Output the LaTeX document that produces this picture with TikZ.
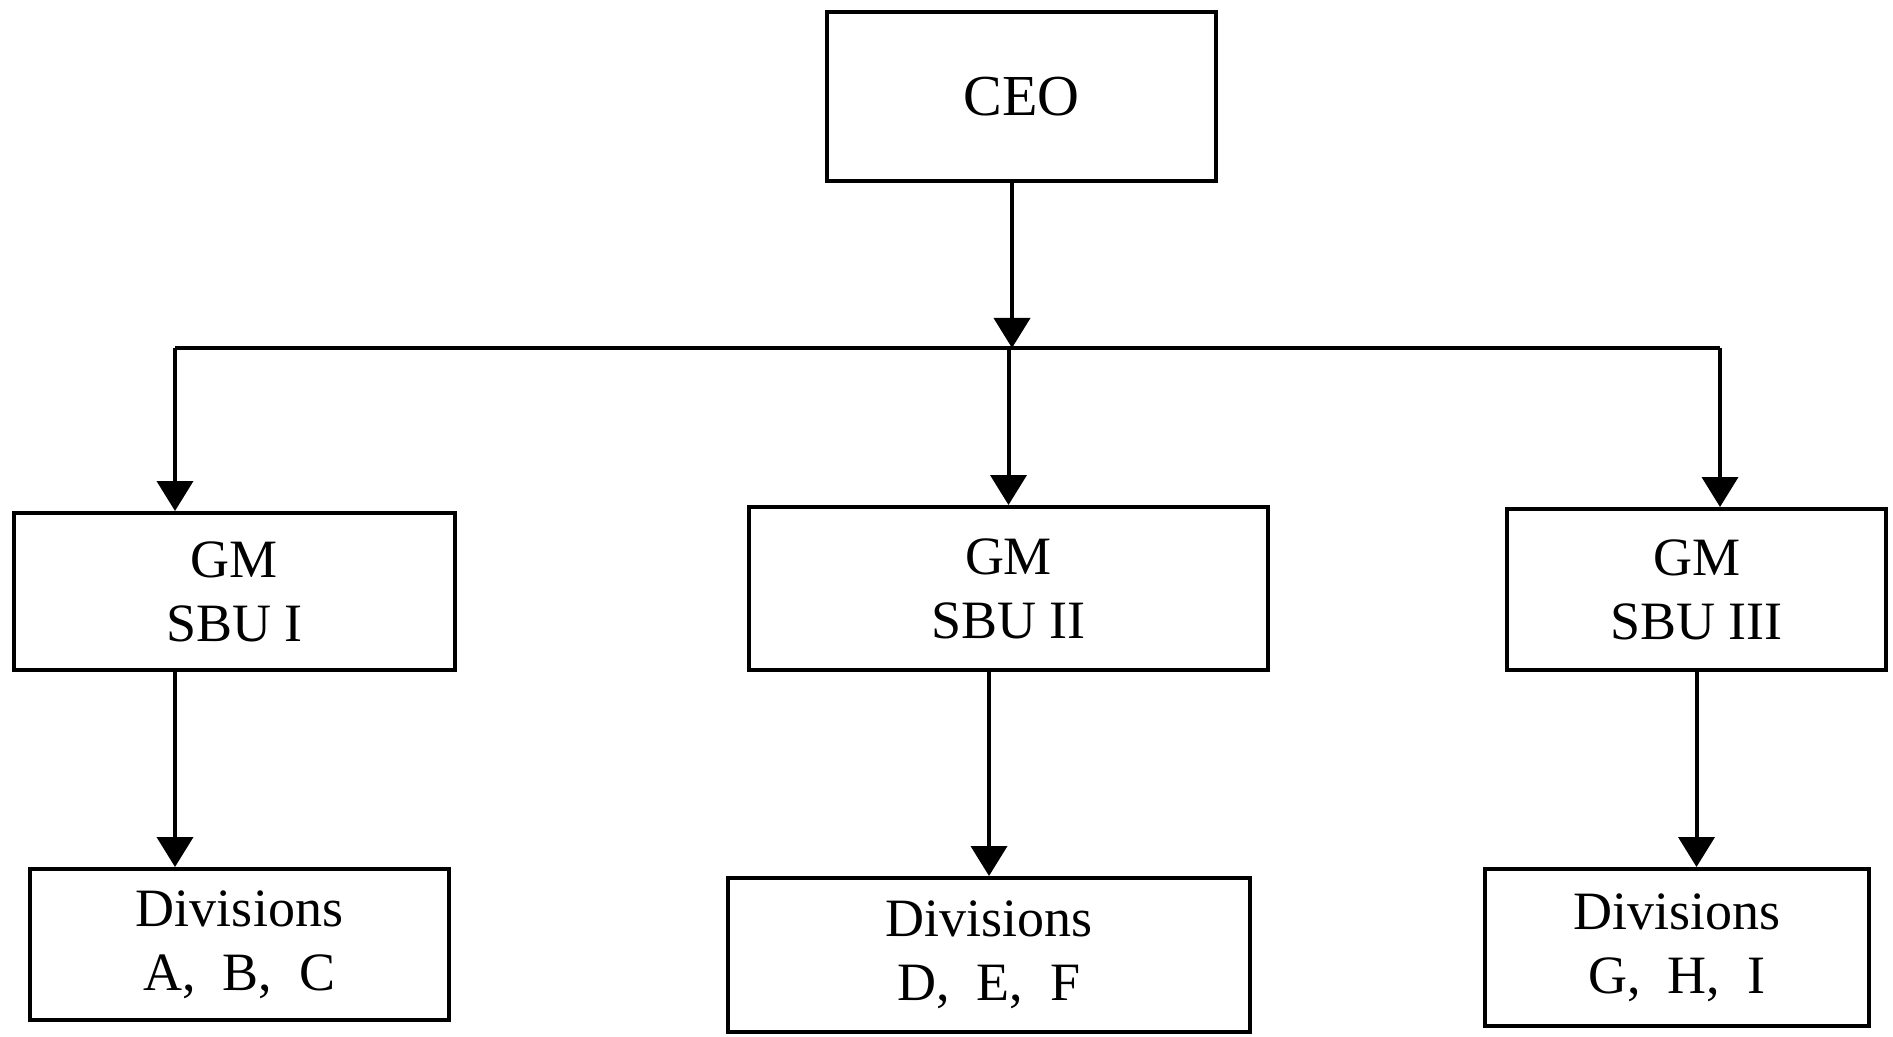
\documentclass[tikz,border=0pt]{standalone}
\usepackage{fontspec}
\setmainfont{Liberation Serif}
\usetikzlibrary{arrows.meta}
\begin{document}
\begin{tikzpicture}[x=0.5pt,y=-0.5pt,
  box/.style={draw=black,line width=2pt,fill=white,align=center,inner sep=0pt,
    font=\fontsize{27}{32}\selectfont},
  arr/.style={line width=2pt,-{Triangle[width=18pt,length=15pt]}},
  bus/.style={line width=2pt}]
\useasboundingbox[fill=white] (0,0) rectangle (1893,1037);
\node[box,minimum width=194.5pt,minimum height=84.5pt,font=\fontsize{29}{34}\selectfont] (ceo) at (1021.5,96.5) {CEO};
\node[box,minimum width=220.5pt,minimum height=78.5pt] (sbu1) at (234.5,591.5) {GM\\SBU I};
\node[box,minimum width=259.5pt,minimum height=81.5pt] (sbu2) at (1008.5,588.5) {GM\\SBU II};
\node[box,minimum width=189.5pt,minimum height=80.5pt] (sbu3) at (1696.5,589.5) {GM\\SBU III};
\node[box,minimum width=209.5pt,minimum height=75.5pt] (div1) at (239.5,944.5) {Divisions\\A,\ \ B,\ \ C};
\node[box,minimum width=261pt,minimum height=77pt] (div2) at (989,955) {Divisions\\D,\ \ E,\ \ F};
\node[box,minimum width=192pt,minimum height=78.5pt] (div3) at (1677,947.5) {Divisions\\G,\ \ H,\ \ I};
\coordinate (busL) at (175,348);
\coordinate (busR) at (1720,348);
\coordinate (busC) at (1012,348);
\draw[bus] (busL) -- (busR);
\draw[arr] (ceo.south -| busC) -- (busC);
\draw[arr] (sbu2.north |- busC) -- (sbu2.north);
\draw[arr] (busL) -- (sbu1.north -| busL);
\draw[arr] (busR) -- (sbu3.north -| busR);
\draw[arr] (sbu1.south -| busL) -- (div1.north -| busL);
\draw[arr] (sbu2.south -| div2.north) -- (div2.north);
\draw[arr] (sbu3.south) -- (sbu3.south |- div3.north);
\end{tikzpicture}
\end{document}
